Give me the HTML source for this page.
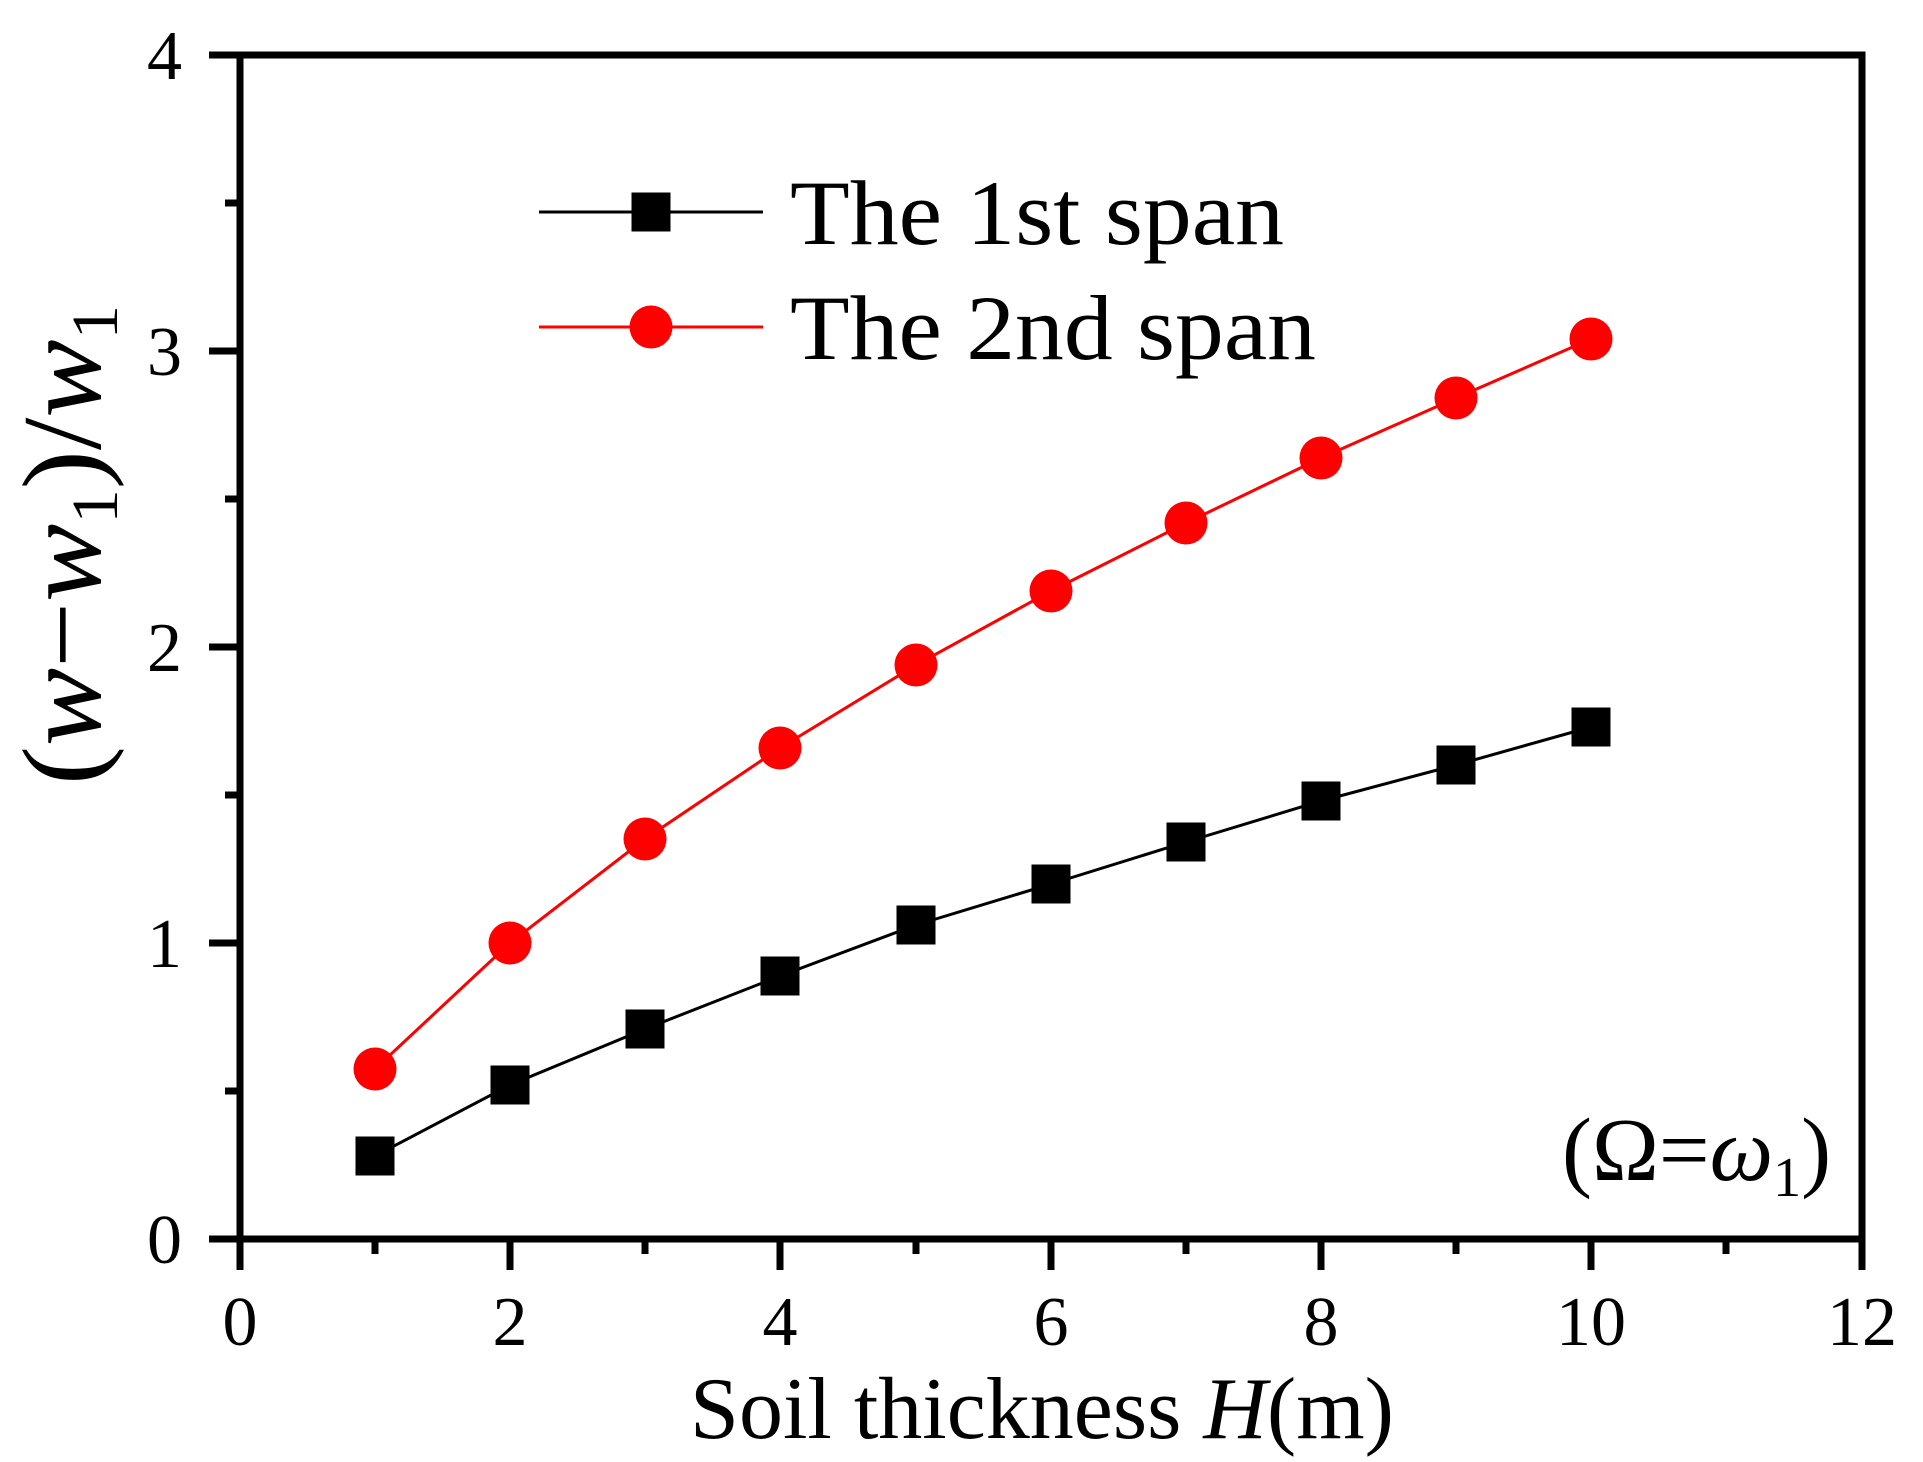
<!DOCTYPE html>
<html><head><meta charset="utf-8"><style>html,body{margin:0;padding:0;background:#fff}svg{display:block}</style></head>
<body>
<svg width="1923" height="1462" viewBox="0 0 1923 1462" xmlns="http://www.w3.org/2000/svg" font-family="Liberation Serif, serif">
<rect width="1923" height="1462" fill="#fff"/>
<g stroke="#000" stroke-width="7" fill="none">
<rect x="240" y="55" width="1622" height="1184"/>
<path d="M240 1239V1270M510 1239V1270M780 1239V1270M1051 1239V1270M1321 1239V1270M1591 1239V1270M1862 1239V1270"/>
<path d="M375 1239V1254M645 1239V1254M916 1239V1254M1186 1239V1254M1456 1239V1254M1726 1239V1254"/>
<path d="M240 1239H209M240 943H209M240 647H209M240 351H209M240 55H209"/>
<path d="M240 1091H225M240 795H225M240 499H225M240 203H225"/>
</g>
<g font-size="70" text-anchor="middle" fill="#000">
<text x="240" y="1345">0</text><text x="510" y="1345">2</text><text x="780" y="1345">4</text><text x="1051" y="1345">6</text><text x="1321" y="1345">8</text><text x="1591" y="1345">10</text><text x="1862" y="1345">12</text>
</g>
<g font-size="70" text-anchor="end" fill="#000">
<text x="182" y="1263">0</text><text x="182" y="967">1</text><text x="182" y="671">2</text><text x="182" y="375">3</text><text x="182" y="79">4</text>
</g>
<text x="1042" y="1438" font-size="88" text-anchor="middle">Soil thickness <tspan font-style="italic">H</tspan>(m)</text>
<text transform="translate(100,785) rotate(-90)" font-size="112" textLength="480" lengthAdjust="spacingAndGlyphs">(<tspan font-style="italic">w</tspan>−<tspan font-style="italic">w</tspan><tspan font-size="66" dy="17">1</tspan><tspan dy="-17">)/</tspan><tspan font-style="italic">w</tspan><tspan font-size="66" dy="17">1</tspan></text>
<text x="1562" y="1180" font-size="90">(Ω=<tspan font-style="italic">ω</tspan><tspan font-size="56" dy="16">1</tspan><tspan dy="-16">)</tspan></text>
<polyline fill="none" stroke="#f00" stroke-width="3" points="375,1069 510,943 645,839 780,748 916,665 1051,591 1186,523 1321,458 1456,398 1591,339"/>
<polyline fill="none" stroke="#000" stroke-width="3" points="375,1156 510,1085 645,1029 780,976 916,925 1051,884 1186,842 1321,801 1456,765 1591,727"/>
<g fill="#f00">
<circle cx="375" cy="1069" r="21.5"/><circle cx="510" cy="943" r="21.5"/><circle cx="645" cy="839" r="21.5"/><circle cx="780" cy="748" r="21.5"/><circle cx="916" cy="665" r="21.5"/><circle cx="1051" cy="591" r="21.5"/><circle cx="1186" cy="523" r="21.5"/><circle cx="1321" cy="458" r="21.5"/><circle cx="1456" cy="398" r="21.5"/><circle cx="1591" cy="339" r="21.5"/>
</g>
<g fill="#000">
<rect x="355.5" y="1136.5" width="39" height="39"/><rect x="490.5" y="1065.5" width="39" height="39"/><rect x="625.5" y="1009.5" width="39" height="39"/><rect x="760.5" y="956.5" width="39" height="39"/><rect x="896.5" y="905.5" width="39" height="39"/><rect x="1031.5" y="864.5" width="39" height="39"/><rect x="1166.5" y="822.5" width="39" height="39"/><rect x="1301.5" y="781.5" width="39" height="39"/><rect x="1436.5" y="745.5" width="39" height="39"/><rect x="1571.5" y="707.5" width="39" height="39"/>
</g>
<line x1="539" y1="212" x2="763" y2="212" stroke="#000" stroke-width="3"/>
<rect x="631.5" y="192.5" width="39" height="39" fill="#000"/>
<line x1="539" y1="327" x2="763" y2="327" stroke="#f00" stroke-width="3"/>
<circle cx="651" cy="327" r="21.5" fill="#f00"/>
<text x="790" y="244" font-size="92" textLength="494" lengthAdjust="spacingAndGlyphs">The 1st span</text>
<text x="790" y="359" font-size="92" textLength="526" lengthAdjust="spacingAndGlyphs">The 2nd span</text>
</svg>
</body></html>
